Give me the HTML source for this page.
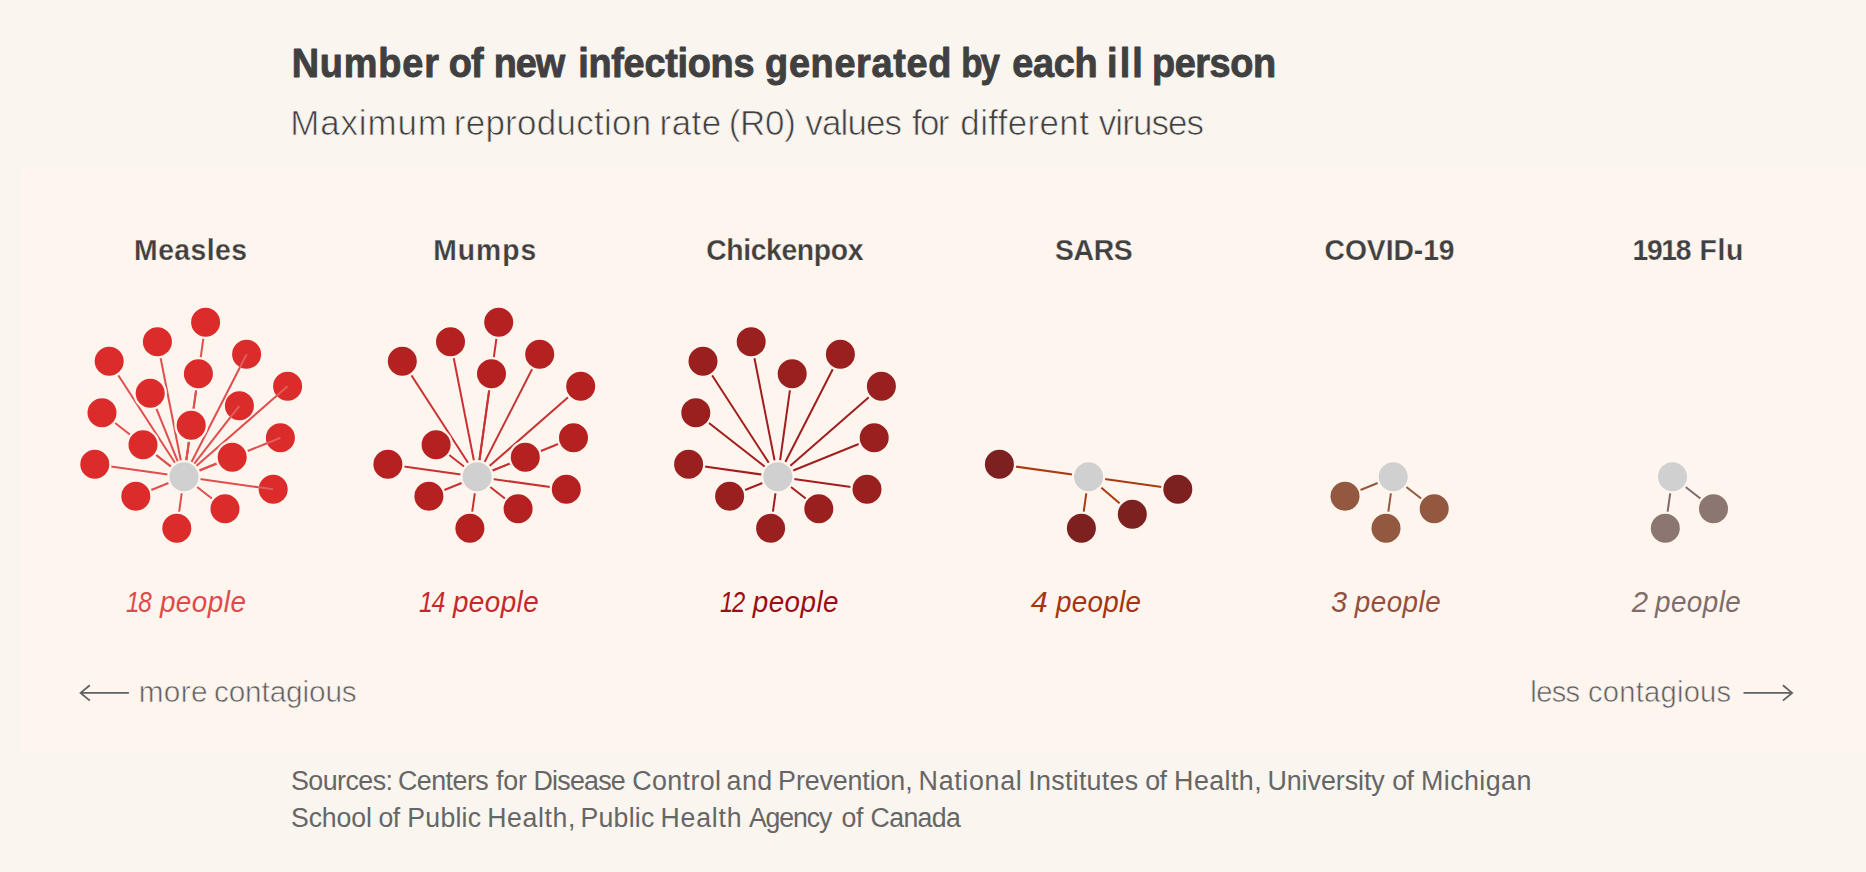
<!DOCTYPE html>
<html lang="en"><head><meta charset="utf-8"><title>Number of new infections generated by each ill person</title>
<style>
html,body{margin:0;padding:0;background:#faf5ef;}
body{width:1866px;height:872px;overflow:hidden;font-family:"Liberation Sans", sans-serif;}
svg text{white-space:pre;}
</style></head><body>
<svg width="1866" height="872" viewBox="0 0 1866 872" style="display:block">
<rect x="0" y="0" width="1866" height="872" fill="#faf5ef"/>
<rect x="21" y="168" width="1845" height="584" fill="#fef5ef"/>
<g>
<g stroke="#e04e4e" stroke-width="2.0" stroke-linecap="butt">
<line x1="184.0" y1="476.8" x2="205.6" y2="322.3"/>
<line x1="184.0" y1="476.8" x2="157.4" y2="341.8"/>
<line x1="184.0" y1="476.8" x2="109.2" y2="361.3"/>
<line x1="184.0" y1="476.8" x2="198.4" y2="373.8"/>
<line x1="184.0" y1="476.8" x2="150.2" y2="393.3"/>
<line x1="184.0" y1="476.8" x2="102.0" y2="412.8"/>
<line x1="184.0" y1="476.8" x2="191.2" y2="425.3"/>
<line x1="184.0" y1="476.8" x2="143.0" y2="444.8"/>
<line x1="184.0" y1="476.8" x2="94.8" y2="464.3"/>
<line x1="184.0" y1="476.8" x2="232.2" y2="457.3"/>
<line x1="184.0" y1="476.8" x2="135.8" y2="496.3"/>
<line x1="184.0" y1="476.8" x2="225.0" y2="508.8"/>
<line x1="184.0" y1="476.8" x2="176.8" y2="528.3"/>
</g>
<g fill="#dc2b2b">
<circle cx="246.6" cy="354.3" r="14.5"/>
<circle cx="287.6" cy="386.3" r="14.5"/>
<circle cx="239.4" cy="405.8" r="14.5"/>
<circle cx="280.4" cy="437.8" r="14.5"/>
<circle cx="273.2" cy="489.3" r="14.5"/>
</g>
<g stroke="#e04e4e" stroke-width="2.0" stroke-linecap="butt">
<line x1="184.0" y1="476.8" x2="240.0" y2="367.2"/>
<line x1="240.0" y1="367.2" x2="246.6" y2="354.3" stroke="#e35c5c"/>
<line x1="184.0" y1="476.8" x2="276.7" y2="395.8"/>
<line x1="276.7" y1="395.8" x2="287.6" y2="386.3" stroke="#e35c5c"/>
<line x1="184.0" y1="476.8" x2="230.5" y2="417.2"/>
<line x1="230.5" y1="417.2" x2="239.4" y2="405.8" stroke="#e35c5c"/>
<line x1="184.0" y1="476.8" x2="267.0" y2="443.2"/>
<line x1="267.0" y1="443.2" x2="280.4" y2="437.8" stroke="#e35c5c"/>
<line x1="184.0" y1="476.8" x2="258.8" y2="487.3"/>
<line x1="258.8" y1="487.3" x2="273.2" y2="489.3" stroke="#e35c5c"/>
</g>
<g fill="#dc2b2b" stroke="#fef5ef" stroke-width="4.6" paint-order="stroke">
<circle cx="205.6" cy="322.3" r="14.5"/>
<circle cx="157.4" cy="341.8" r="14.5"/>
<circle cx="109.2" cy="361.3" r="14.5"/>
<circle cx="198.4" cy="373.8" r="14.5"/>
<circle cx="150.2" cy="393.3" r="14.5"/>
<circle cx="102.0" cy="412.8" r="14.5"/>
<circle cx="191.2" cy="425.3" r="14.5"/>
<circle cx="143.0" cy="444.8" r="14.5"/>
<circle cx="94.8" cy="464.3" r="14.5"/>
<circle cx="232.2" cy="457.3" r="14.5"/>
<circle cx="135.8" cy="496.3" r="14.5"/>
<circle cx="225.0" cy="508.8" r="14.5"/>
<circle cx="176.8" cy="528.3" r="14.5"/>
</g>
<circle cx="184.0" cy="476.8" r="14.5" fill="#d0d0d0" stroke="#fef5ef" stroke-width="4.6" paint-order="stroke"/>
</g>
<g>
<g stroke="#c83232" stroke-width="2.0" stroke-linecap="butt">
<line x1="477.1" y1="476.8" x2="498.7" y2="322.3"/>
<line x1="477.1" y1="476.8" x2="450.5" y2="341.8"/>
<line x1="477.1" y1="476.8" x2="402.3" y2="361.3"/>
<line x1="477.1" y1="476.8" x2="539.7" y2="354.3"/>
<line x1="477.1" y1="476.8" x2="491.5" y2="373.8"/>
<line x1="477.1" y1="476.8" x2="580.7" y2="386.3"/>
<line x1="477.1" y1="476.8" x2="573.5" y2="437.8"/>
<line x1="477.1" y1="476.8" x2="436.1" y2="444.8"/>
<line x1="477.1" y1="476.8" x2="525.3" y2="457.3"/>
<line x1="477.1" y1="476.8" x2="387.9" y2="464.3"/>
<line x1="477.1" y1="476.8" x2="566.3" y2="489.3"/>
<line x1="477.1" y1="476.8" x2="428.9" y2="496.3"/>
<line x1="477.1" y1="476.8" x2="518.1" y2="508.8"/>
<line x1="477.1" y1="476.8" x2="469.9" y2="528.3"/>
</g>
<g fill="#b52020" stroke="#fef5ef" stroke-width="4.6" paint-order="stroke">
<circle cx="498.7" cy="322.3" r="14.5"/>
<circle cx="450.5" cy="341.8" r="14.5"/>
<circle cx="402.3" cy="361.3" r="14.5"/>
<circle cx="539.7" cy="354.3" r="14.5"/>
<circle cx="491.5" cy="373.8" r="14.5"/>
<circle cx="580.7" cy="386.3" r="14.5"/>
<circle cx="573.5" cy="437.8" r="14.5"/>
<circle cx="436.1" cy="444.8" r="14.5"/>
<circle cx="525.3" cy="457.3" r="14.5"/>
<circle cx="387.9" cy="464.3" r="14.5"/>
<circle cx="566.3" cy="489.3" r="14.5"/>
<circle cx="428.9" cy="496.3" r="14.5"/>
<circle cx="518.1" cy="508.8" r="14.5"/>
<circle cx="469.9" cy="528.3" r="14.5"/>
</g>
<circle cx="477.1" cy="476.8" r="14.5" fill="#d0d0d0" stroke="#fef5ef" stroke-width="4.6" paint-order="stroke"/>
</g>
<g>
<g stroke="#a01e1e" stroke-width="2.0" stroke-linecap="butt">
<line x1="777.8" y1="476.8" x2="751.2" y2="341.8"/>
<line x1="777.8" y1="476.8" x2="703.0" y2="361.3"/>
<line x1="777.8" y1="476.8" x2="840.4" y2="354.3"/>
<line x1="777.8" y1="476.8" x2="792.2" y2="373.8"/>
<line x1="777.8" y1="476.8" x2="881.4" y2="386.3"/>
<line x1="777.8" y1="476.8" x2="695.8" y2="412.8"/>
<line x1="777.8" y1="476.8" x2="874.2" y2="437.8"/>
<line x1="777.8" y1="476.8" x2="688.6" y2="464.3"/>
<line x1="777.8" y1="476.8" x2="867.0" y2="489.3"/>
<line x1="777.8" y1="476.8" x2="729.6" y2="496.3"/>
<line x1="777.8" y1="476.8" x2="818.8" y2="508.8"/>
<line x1="777.8" y1="476.8" x2="770.6" y2="528.3"/>
</g>
<g fill="#9a2020" stroke="#fef5ef" stroke-width="4.6" paint-order="stroke">
<circle cx="751.2" cy="341.8" r="14.5"/>
<circle cx="703.0" cy="361.3" r="14.5"/>
<circle cx="840.4" cy="354.3" r="14.5"/>
<circle cx="792.2" cy="373.8" r="14.5"/>
<circle cx="881.4" cy="386.3" r="14.5"/>
<circle cx="695.8" cy="412.8" r="14.5"/>
<circle cx="874.2" cy="437.8" r="14.5"/>
<circle cx="688.6" cy="464.3" r="14.5"/>
<circle cx="867.0" cy="489.3" r="14.5"/>
<circle cx="729.6" cy="496.3" r="14.5"/>
<circle cx="818.8" cy="508.8" r="14.5"/>
<circle cx="770.6" cy="528.3" r="14.5"/>
</g>
<circle cx="777.8" cy="476.8" r="14.5" fill="#d0d0d0" stroke="#fef5ef" stroke-width="4.6" paint-order="stroke"/>
</g>
<g>
<g stroke="#aa3a10" stroke-width="2.0" stroke-linecap="butt">
<line x1="1088.6" y1="476.8" x2="999.4" y2="464.3"/>
<line x1="1088.6" y1="476.8" x2="1177.8" y2="489.3"/>
<line x1="1088.6" y1="476.8" x2="1132.3" y2="514.2"/>
<line x1="1088.6" y1="476.8" x2="1081.4" y2="528.3"/>
</g>
<g fill="#7c2020" stroke="#fef5ef" stroke-width="4.6" paint-order="stroke">
<circle cx="999.4" cy="464.3" r="14.5"/>
<circle cx="1177.8" cy="489.3" r="14.5"/>
<circle cx="1132.3" cy="514.2" r="14.5"/>
<circle cx="1081.4" cy="528.3" r="14.5"/>
</g>
<circle cx="1088.6" cy="476.8" r="14.5" fill="#d0d0d0" stroke="#fef5ef" stroke-width="4.6" paint-order="stroke"/>
</g>
<g>
<g stroke="#935840" stroke-width="2.0" stroke-linecap="butt">
<line x1="1393.2" y1="476.8" x2="1345.0" y2="496.3"/>
<line x1="1393.2" y1="476.8" x2="1434.2" y2="508.8"/>
<line x1="1393.2" y1="476.8" x2="1386.0" y2="528.3"/>
</g>
<g fill="#935840" stroke="#fef5ef" stroke-width="4.6" paint-order="stroke">
<circle cx="1345.0" cy="496.3" r="14.5"/>
<circle cx="1434.2" cy="508.8" r="14.5"/>
<circle cx="1386.0" cy="528.3" r="14.5"/>
</g>
<circle cx="1393.2" cy="476.8" r="14.5" fill="#d0d0d0" stroke="#fef5ef" stroke-width="4.6" paint-order="stroke"/>
</g>
<g>
<g stroke="#836868" stroke-width="2.0" stroke-linecap="butt">
<line x1="1672.5" y1="476.8" x2="1713.5" y2="508.8"/>
<line x1="1672.5" y1="476.8" x2="1665.3" y2="528.3"/>
</g>
<g fill="#8c7672" stroke="#fef5ef" stroke-width="4.6" paint-order="stroke">
<circle cx="1713.5" cy="508.8" r="14.5"/>
<circle cx="1665.3" cy="528.3" r="14.5"/>
</g>
<circle cx="1672.5" cy="476.8" r="14.5" fill="#d0d0d0" stroke="#fef5ef" stroke-width="4.6" paint-order="stroke"/>
</g>
<text y="77.3" font-family='"Liberation Sans", sans-serif' font-size="40.0" font-weight="bold" font-style="normal" fill="#404040"  stroke="#404040" stroke-width="0.9" stroke-linejoin="round" xml:space="preserve"><tspan x="291.66" textLength="148.19" lengthAdjust="spacingAndGlyphs" letter-spacing="0.904">Number</tspan> <tspan x="448.70" textLength="34.27" lengthAdjust="spacingAndGlyphs" letter-spacing="-0.773">of</tspan> <tspan x="493.76" textLength="70.36" lengthAdjust="spacingAndGlyphs" letter-spacing="-1.151">new</tspan> <tspan x="578.16" textLength="176.10" lengthAdjust="spacingAndGlyphs" letter-spacing="-0.285">infections</tspan> <tspan x="765.10" textLength="186.91" lengthAdjust="spacingAndGlyphs" letter-spacing="0.700">generated</tspan> <tspan x="961.30" textLength="36.59" lengthAdjust="spacingAndGlyphs" letter-spacing="-2.400">by</tspan> <tspan x="1012.30" textLength="85.03" lengthAdjust="spacingAndGlyphs" letter-spacing="-0.333">each</tspan> <tspan x="1106.96" textLength="38.06" lengthAdjust="spacingAndGlyphs" letter-spacing="2.291">ill</tspan> <tspan x="1152.06" textLength="123.55" lengthAdjust="spacingAndGlyphs" letter-spacing="-0.471">person</tspan></text>
<text y="134.8" font-family='"Liberation Sans", sans-serif' font-size="35.0" font-weight="normal" font-style="normal" fill="#404040"  stroke="#faf5ef" stroke-width="0.7" stroke-linejoin="round" xml:space="preserve"><tspan x="290.15" textLength="157.65" lengthAdjust="spacingAndGlyphs" letter-spacing="0.908">Maximum</tspan> <tspan x="453.75" textLength="197.65" lengthAdjust="spacingAndGlyphs" letter-spacing="0.296">reproduction</tspan> <tspan x="659.45" textLength="62.42" lengthAdjust="spacingAndGlyphs" letter-spacing="0.565">rate</tspan> <tspan x="728.65" textLength="67.17" lengthAdjust="spacingAndGlyphs" letter-spacing="-0.182">(R0)</tspan> <tspan x="805.25" textLength="95.97" lengthAdjust="spacingAndGlyphs" letter-spacing="-0.828">values</tspan> <tspan x="912.05" textLength="35.81" lengthAdjust="spacingAndGlyphs" letter-spacing="-1.650">for</tspan> <tspan x="960.35" textLength="128.90" lengthAdjust="spacingAndGlyphs" letter-spacing="0.375">different</tspan> <tspan x="1098.75" textLength="104.30" lengthAdjust="spacingAndGlyphs" letter-spacing="-0.902">viruses</tspan></text>
<text y="259.7" font-family='"Liberation Sans", sans-serif' font-size="30.1" font-weight="bold" font-style="normal" fill="#404040"  stroke="#fef5ef" stroke-width="0.25" stroke-linejoin="round" xml:space="preserve"><tspan x="134.10" textLength="113.40" lengthAdjust="spacingAndGlyphs" letter-spacing="0.503">Measles</tspan></text>
<text y="259.7" font-family='"Liberation Sans", sans-serif' font-size="30.1" font-weight="bold" font-style="normal" fill="#404040"  stroke="#fef5ef" stroke-width="0.25" stroke-linejoin="round" xml:space="preserve"><tspan x="433.30" textLength="103.90" lengthAdjust="spacingAndGlyphs" letter-spacing="1.041">Mumps</tspan></text>
<text y="259.7" font-family='"Liberation Sans", sans-serif' font-size="30.1" font-weight="bold" font-style="normal" fill="#404040"  stroke="#fef5ef" stroke-width="0.25" stroke-linejoin="round" xml:space="preserve"><tspan x="706.14" textLength="156.90" lengthAdjust="spacingAndGlyphs" letter-spacing="-0.366">Chickenpox</tspan></text>
<text y="259.7" font-family='"Liberation Sans", sans-serif' font-size="30.1" font-weight="bold" font-style="normal" fill="#404040"  stroke="#fef5ef" stroke-width="0.25" stroke-linejoin="round" xml:space="preserve"><tspan x="1054.88" textLength="77.61" lengthAdjust="spacingAndGlyphs" letter-spacing="-0.261">SARS</tspan></text>
<text y="259.7" font-family='"Liberation Sans", sans-serif' font-size="30.1" font-weight="bold" font-style="normal" fill="#404040"  stroke="#fef5ef" stroke-width="0.25" stroke-linejoin="round" xml:space="preserve"><tspan x="1324.54" textLength="130.03" lengthAdjust="spacingAndGlyphs" letter-spacing="-0.059">COVID-19</tspan></text>
<text y="259.7" font-family='"Liberation Sans", sans-serif' font-size="30.1" font-weight="bold" font-style="normal" fill="#404040"  stroke="#fef5ef" stroke-width="0.25" stroke-linejoin="round" xml:space="preserve"><tspan x="1632.44" textLength="57.80" lengthAdjust="spacingAndGlyphs" letter-spacing="-1.364">1918</tspan> <tspan x="1699.50" textLength="44.39" lengthAdjust="spacingAndGlyphs" letter-spacing="0.698">Flu</tspan></text>
<text y="612.1" font-family='"Liberation Sans", sans-serif' font-size="30.4" font-weight="normal" font-style="italic" fill="#de4b4b"  xml:space="preserve"><tspan x="126.10" textLength="24.07" lengthAdjust="spacingAndGlyphs" letter-spacing="-1.824">18</tspan> <tspan x="159.92" textLength="86.51" lengthAdjust="spacingAndGlyphs" letter-spacing="0.544">people</tspan></text>
<text y="612.1" font-family='"Liberation Sans", sans-serif' font-size="30.4" font-weight="normal" font-style="italic" fill="#c6282c"  xml:space="preserve"><tspan x="419.10" textLength="24.65" lengthAdjust="spacingAndGlyphs" letter-spacing="-1.824">14</tspan> <tspan x="452.92" textLength="86.27" lengthAdjust="spacingAndGlyphs" letter-spacing="0.500">people</tspan></text>
<text y="612.1" font-family='"Liberation Sans", sans-serif' font-size="30.4" font-weight="normal" font-style="italic" fill="#9a0e16"  xml:space="preserve"><tspan x="720.10" textLength="23.60" lengthAdjust="spacingAndGlyphs" letter-spacing="-1.824">12</tspan> <tspan x="752.72" textLength="86.27" lengthAdjust="spacingAndGlyphs" letter-spacing="0.500">people</tspan></text>
<text y="612.1" font-family='"Liberation Sans", sans-serif' font-size="30.4" font-weight="normal" font-style="italic" fill="#a63410"  xml:space="preserve"><tspan x="1030.80" textLength="16.90" lengthAdjust="spacingAndGlyphs">4</tspan> <tspan x="1056.12" textLength="85.19" lengthAdjust="spacingAndGlyphs" letter-spacing="0.304">people</tspan></text>
<text y="612.1" font-family='"Liberation Sans", sans-serif' font-size="30.4" font-weight="normal" font-style="italic" fill="#94503c"  xml:space="preserve"><tspan x="1331.10" textLength="16.01" lengthAdjust="spacingAndGlyphs">3</tspan> <tspan x="1354.72" textLength="86.51" lengthAdjust="spacingAndGlyphs" letter-spacing="0.544">people</tspan></text>
<text y="612.1" font-family='"Liberation Sans", sans-serif' font-size="30.4" font-weight="normal" font-style="italic" fill="#806c6a"  xml:space="preserve"><tspan x="1631.77" textLength="16.34" lengthAdjust="spacingAndGlyphs">2</tspan> <tspan x="1655.02" textLength="86.27" lengthAdjust="spacingAndGlyphs" letter-spacing="0.500">people</tspan></text>
<text y="701.9" font-family='"Liberation Sans", sans-serif' font-size="30.3" font-weight="normal" font-style="normal" fill="#606060"  stroke="#fef5ef" stroke-width="0.6" stroke-linejoin="round" xml:space="preserve"><tspan x="138.74" textLength="69.02" lengthAdjust="spacingAndGlyphs" letter-spacing="0.328">more</tspan> <tspan x="213.92" textLength="142.72" lengthAdjust="spacingAndGlyphs" letter-spacing="-0.109">contagious</tspan></text>
<text y="701.9" font-family='"Liberation Sans", sans-serif' font-size="30.3" font-weight="normal" font-style="normal" fill="#606060"  stroke="#fef5ef" stroke-width="0.6" stroke-linejoin="round" xml:space="preserve"><tspan x="1530.37" textLength="49.07" lengthAdjust="spacingAndGlyphs" letter-spacing="-0.729">less</tspan> <tspan x="1587.94" textLength="143.44" lengthAdjust="spacingAndGlyphs" letter-spacing="0.243">contagious</tspan></text>
<g fill="none" stroke="#606060" stroke-width="1.8" stroke-linecap="butt" stroke-linejoin="miter">
<path d="M128.9 692.9H81.5M89.8 685.2L80.6 692.9L89.8 700.6"/>
<path d="M1743.5 692.9H1791.2M1782.9 685.2L1792.1 692.9L1782.9 700.6"/>
</g>
<text y="790.3" font-family='"Liberation Sans", sans-serif' font-size="27" font-weight="normal" font-style="normal" fill="#666666"  xml:space="preserve"><tspan x="291.01" textLength="101.43" lengthAdjust="spacingAndGlyphs" letter-spacing="-0.565">Sources:</tspan> <tspan x="398.01" textLength="90.14" lengthAdjust="spacingAndGlyphs" letter-spacing="-0.551">Centers</tspan> <tspan x="496.10" textLength="30.68" lengthAdjust="spacingAndGlyphs" letter-spacing="-0.216">for</tspan> <tspan x="533.51" textLength="91.40" lengthAdjust="spacingAndGlyphs" letter-spacing="-0.799">Disease</tspan> <tspan x="632.31" textLength="89.05" lengthAdjust="spacingAndGlyphs" letter-spacing="0.363">Control</tspan> <tspan x="726.61" textLength="45.87" lengthAdjust="spacingAndGlyphs" letter-spacing="0.364">and</tspan> <tspan x="778.11" textLength="134.35" lengthAdjust="spacingAndGlyphs" letter-spacing="-0.130">Prevention,</tspan> <tspan x="918.61" textLength="103.74" lengthAdjust="spacingAndGlyphs" letter-spacing="0.662">National</tspan> <tspan x="1028.31" textLength="110.16" lengthAdjust="spacingAndGlyphs" letter-spacing="0.277">Institutes</tspan> <tspan x="1145.31" textLength="21.01" lengthAdjust="spacingAndGlyphs" letter-spacing="-0.689">of</tspan> <tspan x="1174.11" textLength="87.89" lengthAdjust="spacingAndGlyphs" letter-spacing="0.409">Health,</tspan> <tspan x="1267.41" textLength="117.34" lengthAdjust="spacingAndGlyphs" letter-spacing="-0.048">University</tspan> <tspan x="1392.21" textLength="21.21" lengthAdjust="spacingAndGlyphs" letter-spacing="-0.589">of</tspan> <tspan x="1421.01" textLength="110.82" lengthAdjust="spacingAndGlyphs" letter-spacing="0.429">Michigan</tspan></text>
<text y="827.4" font-family='"Liberation Sans", sans-serif' font-size="27" font-weight="normal" font-style="normal" fill="#666666"  xml:space="preserve"><tspan x="291.01" textLength="80.75" lengthAdjust="spacingAndGlyphs" letter-spacing="-0.128">School</tspan> <tspan x="378.51" textLength="21.16" lengthAdjust="spacingAndGlyphs" letter-spacing="-0.542">of</tspan> <tspan x="407.33" textLength="74.00" lengthAdjust="spacingAndGlyphs" letter-spacing="0.237">Public</tspan> <tspan x="487.23" textLength="88.77" lengthAdjust="spacingAndGlyphs" letter-spacing="0.625">Health,</tspan> <tspan x="580.53" textLength="74.12" lengthAdjust="spacingAndGlyphs" letter-spacing="0.257">Public</tspan> <tspan x="660.43" textLength="82.00" lengthAdjust="spacingAndGlyphs" letter-spacing="0.836">Health</tspan> <tspan x="748.90" textLength="82.43" lengthAdjust="spacingAndGlyphs" letter-spacing="-1.094">Agency</tspan> <tspan x="841.51" textLength="21.36" lengthAdjust="spacingAndGlyphs" letter-spacing="-0.441">of</tspan> <tspan x="870.61" textLength="89.46" lengthAdjust="spacingAndGlyphs" letter-spacing="-0.660">Canada</tspan></text>
</svg>
</body></html>
